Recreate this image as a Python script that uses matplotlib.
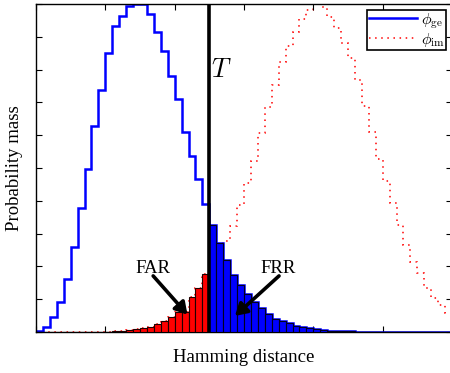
import numpy as np
import matplotlib
matplotlib.use("Agg")
import matplotlib.pyplot as plt

plt.rcParams["font.family"] = ["Liberation Serif", "DejaVu Serif"]
plt.rcParams["mathtext.fontset"] = "cm"

# Probability mass per Hamming-distance bin (bins 0..59)
genuine = [
    0.0003, 0.0015, 0.0047, 0.0092, 0.0163, 0.0260, 0.0377, 0.0496, 0.0628, 0.0738,
    0.0850, 0.0933, 0.0963, 0.0994, 0.1000, 0.1000, 0.0970, 0.0916, 0.0856, 0.0780,
    0.0710, 0.0609, 0.0538, 0.0467, 0.0390, 0.0325, 0.0272, 0.0221, 0.0173, 0.0143,
    0.0116, 0.0091, 0.0072, 0.0055, 0.0040, 0.0034, 0.0027, 0.0018, 0.0014, 0.0011,
    0.0008, 0.0006, 0.0004, 0.0003, 0.0002, 0.0002, 0.0001, 0.0001, 0.0, 0.0,
    0.0, 0.0, 0.0, 0.0, 0.0, 0.0, 0.0, 0.0, 0.0, 0.0,
]
impostor = [
    0.0, 0.0, 0.0, 0.0, 0.0, 0.0, 0.0, 0.0, 0.0, 0.0001,
    0.0001, 0.0002, 0.0003, 0.0005, 0.0008, 0.0011, 0.0016, 0.0023, 0.0034, 0.0045,
    0.0060, 0.0062, 0.0108, 0.0133, 0.0176, 0.0205, 0.0240, 0.0278, 0.0323, 0.0387,
    0.0455, 0.0522, 0.0606, 0.0687, 0.0753, 0.0824, 0.0872, 0.0915, 0.0953, 0.0982,
    0.1000, 0.0990, 0.0960, 0.0927, 0.0880, 0.0835, 0.0768, 0.0690, 0.0610, 0.0527,
    0.0461, 0.0394, 0.0326, 0.0265, 0.0214, 0.0179, 0.0133, 0.0103, 0.0082, 0.0057,
]
threshold = 25

gen = np.array(genuine)
imp = np.array(impostor)
n_bins = len(gen)
edges = np.arange(n_bins + 1)
bins = np.arange(n_bins)

fig = plt.figure(figsize=(4.5, 3.73), dpi=100)
ax = fig.add_axes([36 / 450, 1 - 332 / 373, 416 / 450, 328 / 373])

ax.stairs(imp, edges, color="red", lw=1.1, linestyle=(0, (1, 3)), zorder=1,
          label=r"$\phi_{\rm im}$")
ax.stairs(gen, edges, color="#0000ff", lw=1.8, zorder=2,
          label=r"$\phi_{\rm ge}$")

far = bins < threshold
frr = bins >= threshold
ax.bar(bins[far], imp[far], width=1, align="edge", color="#ff0000",
       edgecolor="#200000", lw=0.8, zorder=3)
ax.bar(bins[frr], gen[frr], width=1, align="edge", color="#0000ff",
       edgecolor="#000020", lw=0.8, zorder=3)

ax.axvline(threshold, color="black", lw=2.6, zorder=5)
ax.text(threshold + 0.3, 0.0796, r"$T$", fontsize=19, ha="left", va="center",
        zorder=6)

arrow = dict(arrowstyle="-|>,head_length=0.5,head_width=0.3", lw=2.6,
             color="black", shrinkA=0, shrinkB=0, mutation_scale=14)
ax.annotate("", xy=(21.85, 0.0053), xytext=(16.9, 0.0171),
            arrowprops=arrow, zorder=6)
ax.annotate("", xy=(28.7, 0.0049), xytext=(35.05, 0.0171),
            arrowprops=arrow, zorder=6)
ax.text(16.8, 0.0195, "FAR", fontsize=13.5, ha="center", va="center", zorder=6)
ax.text(34.9, 0.0195, "FRR", fontsize=13.5, ha="center", va="center", zorder=6)

ax.set_xlim(0, 60)
ax.set_ylim(0, 0.1)
ax.set_xticks(np.arange(0, 61, 10))
ax.set_yticks(np.linspace(0, 0.1, 11))
ax.tick_params(direction="in", top=True, right=True, length=4, width=0.8,
               labelbottom=False, labelleft=False)
for s in ax.spines.values():
    s.set_linewidth(1.0)

handles, labels = ax.get_legend_handles_labels()
leg = ax.legend(handles[::-1], labels[::-1], loc="upper right", fontsize=11.5,
                fancybox=False, edgecolor="black", framealpha=1,
                handlelength=3.0, handletextpad=0.25, borderpad=0.1,
                labelspacing=0.0, borderaxespad=0.35)
leg.get_frame().set_linewidth(1.2)

fig.text(244 / 450, 1 - 357 / 373, "Hamming distance", fontsize=13.5,
         ha="center", va="center")
fig.text(15 / 450, 1 - 168 / 373, "Probability mass", fontsize=13.5,
         ha="center", va="center", rotation=90)

fig.savefig("out.png", dpi=100)
